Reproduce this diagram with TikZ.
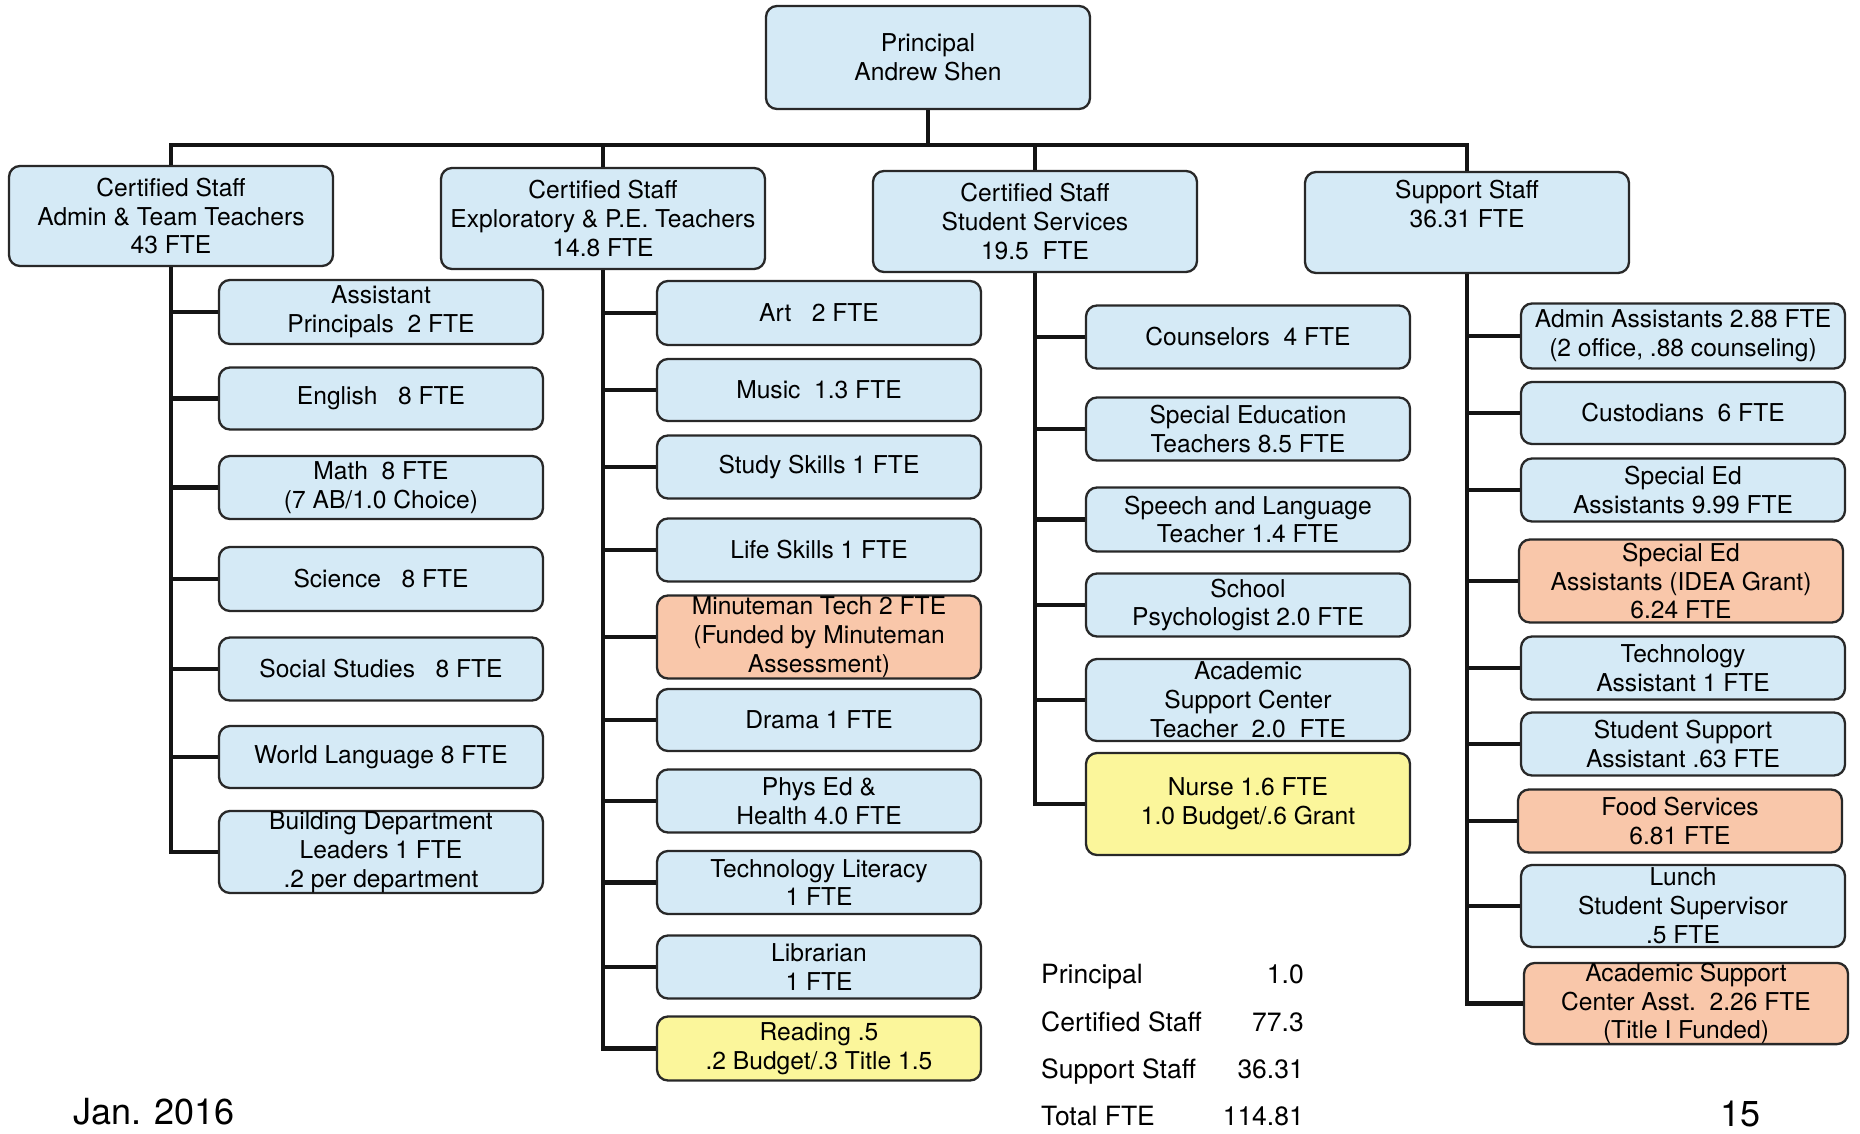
\documentclass[tikz,border=0pt]{standalone}
\usepackage{fontspec}
\setmainfont{TeX Gyre Heros}
\definecolor{boxblue}{RGB}{213,234,246}
\definecolor{boxsalmon}{RGB}{249,199,170}
\definecolor{boxyellow}{RGB}{251,246,155}
\definecolor{boxline}{RGB}{40,40,40}
\tikzset{
  unit/.style={draw=boxline, line width=2.3pt, rounded corners=11pt, fill=boxblue,
    align=center, inner sep=0pt, minimum width=324pt, minimum height=63pt,
    font=\fontsize{24.6}{28.8}\selectfont, text=black},
  grant/.style={unit, fill=boxsalmon},
  split/.style={unit, fill=boxyellow},
  conn/.style={line width=4.8pt, black!92, line join=miter},
  tally/.style={inner sep=0pt, font=\fontsize{26.5}{30}\selectfont, text=black},
  footer/.style={inner sep=0pt, font=\fontsize{36}{40}\selectfont, text=black},
}
\begin{document}
\begin{tikzpicture}[x=1pt, y=-1pt]
\useasboundingbox[fill=white] (0,0) rectangle (1860,1133);

% top of the chart
\node[unit, minimum height=103pt] (P) at (928,57.5) {Principal\\Andrew Shen};
\coordinate (bar) at (928,145);

% four departments
\node[unit, minimum height=100pt] (A) at (171,216) {Certified Staff\\Admin \& Team Teachers\\43 FTE};
\node[unit, minimum height=101pt] (B) at (603,218.5) {Certified Staff\\Exploratory \& P.E. Teachers\\14.8 FTE};
\node[unit, minimum height=101pt] (C) at (1035,221.5) {Certified Staff\\Student Services\\19.5\ \ FTE};
\node[unit, minimum height=101pt] (D) at (1467,222.5) {Support Staff\\36.31 FTE\\\strut};

% Admin & team teachers
\node[unit, minimum height=64pt] (a1) at (381,312) {Assistant\\Principals\ \ 2 FTE};
\node[unit, minimum height=62pt] (a2) at (381,398.5) {English\ \ \ 8 FTE};
\node[unit, minimum height=63pt] (a3) at (381,487.5) {Math\ \ 8 FTE\\(7 AB/1.0 Choice)};
\node[unit, minimum height=64pt] (a4) at (381,579) {Science\ \ \ 8 FTE};
\node[unit, minimum height=63pt] (a5) at (381,669) {Social Studies\ \ \ 8 FTE};
\node[unit, minimum height=62pt] (a6) at (381,757) {World Language 8 FTE};
\node[unit, minimum height=82pt] (a7) at (381,852) {Building Department\\Leaders 1 FTE\\.2 per department};

% Exploratory & P.E.
\node[unit, minimum height=64pt] (b1) at (819,313) {Art\ \ \ 2 FTE};
\node[unit, minimum height=62pt] (b2) at (819,390) {Music\ \ 1.3 FTE};
\node[unit, minimum height=63pt] (b3) at (819,467) {Study Skills 1 FTE};
\node[unit, minimum height=63pt] (b4) at (819,550) {Life Skills 1 FTE};
\node[grant, minimum height=83pt] (b5) at (819,637) {Minuteman Tech 2 FTE\\(Funded by Minuteman\\Assessment)};
\node[unit, minimum height=62pt] (b6) at (819,720) {Drama 1 FTE};
\node[unit, minimum height=63pt] (b7) at (819,801) {Phys Ed \&\\Health 4.0 FTE};
\node[unit, minimum height=63pt] (b8) at (819,882.5) {Technology Literacy\\1 FTE};
\node[unit, minimum height=63pt] (b9) at (819,967) {Librarian\\1 FTE};
\node[split, minimum height=64pt] (b10) at (819,1048.5) {Reading .5\\.2 Budget/.3 Title 1.5};

% Student services
\node[unit, minimum height=63pt] (c1) at (1248,337) {Counselors\ \ 4 FTE};
\node[unit, minimum height=63pt] (c2) at (1248,429) {Special Education\\Teachers 8.5 FTE};
\node[unit, minimum height=64pt] (c3) at (1248,519.5) {Speech and Language\\Teacher 1.4 FTE};
\node[unit, minimum height=63pt] (c4) at (1248,605) {School\\Psychologist 2.0 FTE};
\node[unit, minimum height=82pt] (c5) at (1248,700) {Academic\\Support Center\\Teacher\ \ 2.0\ \ FTE};
\node[split, minimum height=102pt] (c6) at (1248,804) {Nurse 1.6 FTE\\1.0 Budget/.6 Grant};

% Support staff
\node[unit, minimum height=65pt] (d1) at (1683,336) {Admin Assistants 2.88 FTE\\(2 office, .88 counseling)};
\node[unit, minimum height=62pt] (d2) at (1683,413) {Custodians\ \ 6 FTE};
\node[unit, minimum height=63pt] (d3) at (1683,490) {Special Ed\\Assistants 9.99 FTE};
\node[grant, minimum height=83pt] (d4) at (1681,581) {Special Ed\\Assistants (IDEA Grant)\\6.24 FTE};
\node[unit, minimum height=63pt] (d5) at (1683,668) {Technology\\Assistant 1 FTE};
\node[unit, minimum height=63pt] (d6) at (1683,744) {Student Support\\Assistant .63 FTE};
\node[grant, minimum height=63pt] (d7) at (1680,821) {Food Services\\6.81 FTE};
\node[unit, minimum height=82pt] (d8) at (1683,906) {Lunch\\Student Supervisor\\.5 FTE};
\node[grant, minimum height=81pt] (d9) at (1686,1003.5) {Academic Support\\Center Asst.\ \ 2.26 FTE\\(Title I Funded)};

% connectors
\draw[conn] (P.south) -- (bar);
\draw[conn] (A.north) |- (bar) -| (D.north);
\draw[conn] (B.north) -- (B.north |- bar);
\draw[conn] (C.north) -- (C.north |- bar);
\foreach \k in {a1,a2,a3,a4,a5,a6,a7} \draw[conn] (A.south) |- (\k.west);
\foreach \k in {b1,b2,b3,b4,b5,b6,b7,b8,b9,b10} \draw[conn] (B.south) |- (\k.west);
\foreach \k in {c1,c2,c3,c4,c5,c6} \draw[conn] (C.south) |- (\k.west);
\foreach \k in {d1,d2,d3,d4,d5,d6,d7,d8,d9} \draw[conn] (D.south) |- (\k.west);

% staff totals
\node[tally, anchor=base west] (t1) at (1041,983) {Principal};
\node[tally, anchor=base east] (v1) at (1304,983) {1.0};
\node[tally, anchor=base west] (t2) at (1041,1031) {Certified Staff};
\node[tally, anchor=base east] (v2) at (1304,1031) {77.3};
\node[tally, anchor=base west] (t3) at (1041,1078) {Support Staff};
\node[tally, anchor=base east] (v3) at (1304,1078) {36.31};
\node[tally, anchor=base west] (t4) at (1041,1125) {Total FTE};
\node[tally, anchor=base east] (v4) at (1304,1125) {114.81};

% page footer
\node[footer, anchor=base west] (date) at (73,1124) {Jan. 2016};
\node[footer, anchor=base west] (page) at (1720,1126) {15};
\end{tikzpicture}
\end{document}
